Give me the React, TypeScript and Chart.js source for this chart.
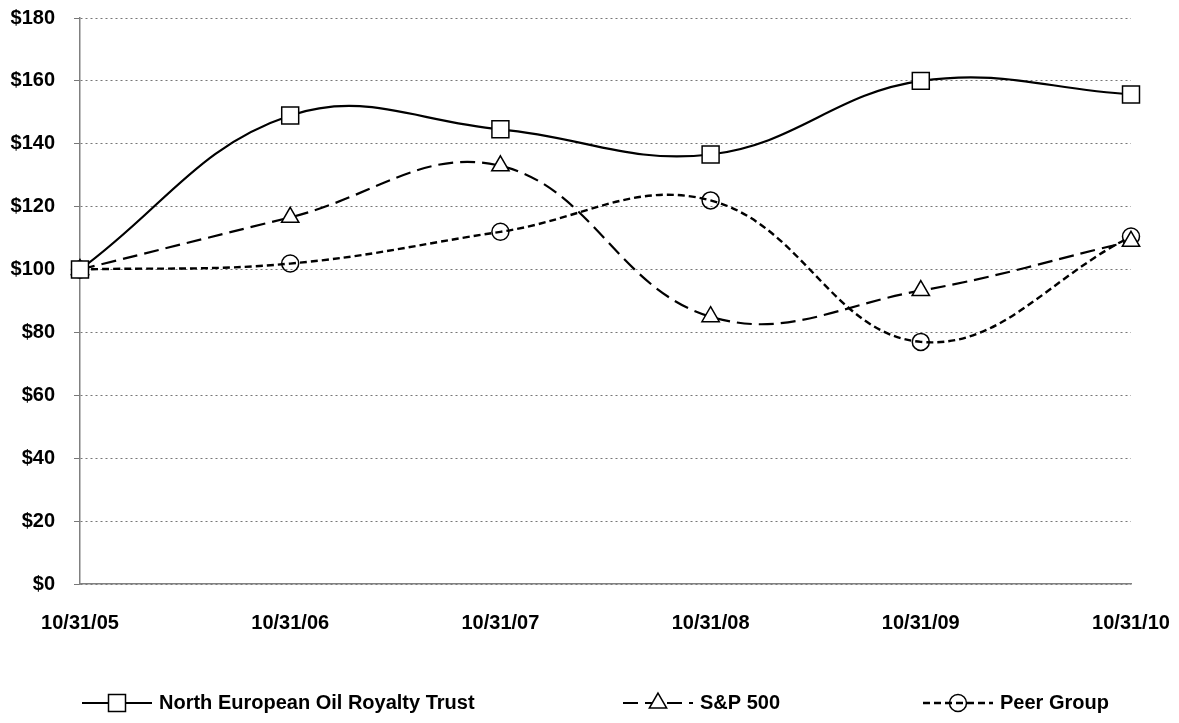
import React, { useEffect, useRef } from "react";
import { Chart, registerables } from "chart.js";

Chart.register(...registerables);

const categories = ["10/31/05", "10/31/06", "10/31/07", "10/31/08", "10/31/09", "10/31/10"];
const neortValues = [100, 149, 144.6, 136.6, 160, 155.7];
const spValues = [100, 116.6, 133, 85, 93.3, 109];
const peerValues = [100, 101.9, 112, 122, 77, 110.5];
const seriesNames = ["North European Oil Royalty Trust", "S&P 500", "Peer Group"];
const yTickMax = 180;
const yTickStep = 20;

const FONT = '"Liberation Sans", Arial, Helvetica, sans-serif';

function drawMarker(ctx: CanvasRenderingContext2D, style: string, x: number, y: number, fill: string) {
  ctx.save();
  ctx.setLineDash([]);
  ctx.lineWidth = 1.5;
  ctx.strokeStyle = "#000";
  ctx.fillStyle = fill;
  ctx.beginPath();
  if (style === "rect") {
    ctx.rect(x - 8.5, y - 8.5, 17, 17);
  } else if (style === "triangle") {
    const r = 10;
    ctx.moveTo(x, y - r);
    ctx.lineTo(x + r * Math.cos(Math.PI / 6), y + r * 0.5);
    ctx.lineTo(x - r * Math.cos(Math.PI / 6), y + r * 0.5);
    ctx.closePath();
  } else {
    ctx.arc(x, y, 8.5, 0, Math.PI * 2);
  }
  if (fill !== "transparent") ctx.fill();
  ctx.stroke();
  ctx.restore();
}

const legendPlugin = {
  id: "customLegend",
  afterDraw(chart: any) {
    const ctx: CanvasRenderingContext2D = chart.ctx;
    const y = 703;
    const starts = [82, 623, 923];
    chart.data.datasets.forEach((ds: any, i: number) => {
      const x0 = starts[i];
      ctx.save();
      ctx.strokeStyle = "#000";
      ctx.lineWidth = ds.borderWidth;
      ctx.setLineDash(ds.borderDash || []);
      ctx.beginPath();
      ctx.moveTo(x0, y);
      ctx.lineTo(x0 + 70, y);
      ctx.stroke();
      ctx.restore();
      drawMarker(ctx, ds.pointStyle, x0 + 35, y, ds.pointBackgroundColor);
      ctx.save();
      ctx.fillStyle = "#000";
      ctx.font = `bold 20px ${FONT}`;
      ctx.textBaseline = "middle";
      ctx.textAlign = "left";
      ctx.fillText(ds.label, x0 + 77, y);
      ctx.restore();
    });
  },
};

export default function App() {
  const ref = useRef<HTMLCanvasElement>(null);

  useEffect(() => {
    document.body.style.margin = "0";
    const canvas = ref.current;
    if (!canvas) return;
    const chart = new Chart(canvas, {
      type: "line",
      data: {
        labels: categories,
        datasets: [
          {
            label: seriesNames[0],
            data: neortValues,
            borderColor: "#000",
            borderWidth: 2.2,
            tension: 0.4,
            pointStyle: "rect",
            pointRadius: 12,
            pointBorderWidth: 1.5,
            pointBorderColor: "#000",
            pointBackgroundColor: "#fff",
            fill: false,
          },
          {
            label: seriesNames[1],
            data: spValues,
            borderColor: "#000",
            borderWidth: 2.2,
            borderDash: [15, 7],
            tension: 0.4,
            pointStyle: "triangle",
            pointRadius: 10,
            pointBorderWidth: 1.5,
            pointBorderColor: "#000",
            pointBackgroundColor: "#fff",
            fill: false,
          },
          {
            label: seriesNames[2],
            data: peerValues,
            borderColor: "#000",
            borderWidth: 2.4,
            borderDash: [7, 4],
            tension: 0.4,
            pointStyle: "circle",
            pointRadius: 8.5,
            pointBorderWidth: 1.5,
            pointBorderColor: "#000",
            pointBackgroundColor: "transparent",
            fill: false,
          },
        ],
      },
      options: {
        animation: false,
        responsive: true,
        maintainAspectRatio: false,
        layout: { padding: { top: 18, right: 48, left: 0, bottom: 0 } },
        plugins: {
          legend: { display: false },
          tooltip: { enabled: false },
        },
        scales: {
          x: {
            grid: { display: false },
            border: { display: true, color: "#808080", width: 1.5 },
            ticks: {
              color: "#000",
              font: { family: FONT, size: 20, weight: "bold" },
              padding: 19,
              maxRotation: 0,
              autoSkip: false,
            },
            afterFit: (s: any) => {
              s.height = 139;
              s.paddingLeft = 0;
              s.paddingRight = 0;
            },
          },
          y: {
            min: 0,
            max: yTickMax,
            grid: {
              color: "#777",
              lineWidth: 1,
              tickLength: 6,
            },
            border: { display: true, color: "#808080", width: 1.5, dash: [2, 3] },
            ticks: {
              stepSize: yTickStep,
              color: "#000",
              font: { family: FONT, size: 20, weight: "bold" },
              padding: 19,
              callback: (v: any) => "$" + v,
            },
            afterFit: (s: any) => {
              s.width = 80;
              s.paddingTop = 0;
              s.paddingBottom = 0;
            },
          },
        },
      },
      plugins: [legendPlugin],
    } as any);
    return () => chart.destroy();
  }, []);

  return (
    <div style={{ width: 1179, height: 723, position: "relative" }}>
      <canvas ref={ref} />
    </div>
  );
}
